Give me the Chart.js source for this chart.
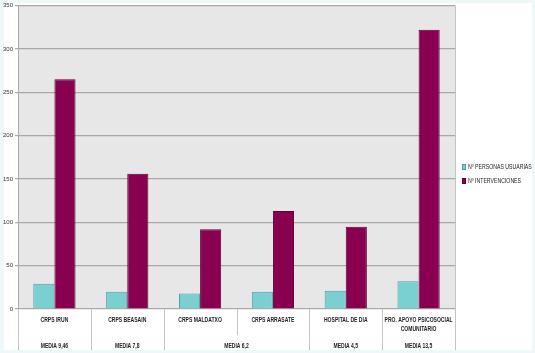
<!DOCTYPE html>
<html>
<head>
<meta charset="utf-8">
<script src="https://cdn.jsdelivr.net/npm/chart.js@4"></script>
<style>
  html, body { margin: 0; padding: 0; background: #eef8f9; }
  #wrap { width: 535px; height: 353px; }
</style>
</head>
<body>
<div id="wrap"><canvas id="serviciosChart" width="535" height="353"></canvas></div>
<script>
// chart data
const categories = ['CRPS IRUN', 'CRPS BEASAIN', 'CRPS MALDATXO', 'CRPS ARRASATE', 'HOSPITAL DE DIA', ['PRO. APOYO PSICOSOCIAL', 'COMUNITARIO']];
const personas = [29, 20, 18, 20, 21, 32];
const intervenciones = [265, 156, 92, 113, 95, 322];
const seriesLabels = ['Nº PERSONAS USUARIAS', 'Nº INTERVENCIONES'];
// group row under the categories: [label, first index, last index]
const mediaGroups = [['MEDIA 9,46', 0, 0], ['MEDIA 7,8', 1, 1], ['MEDIA 6,2', 2, 3], ['MEDIA 4,5', 4, 4], ['MEDIA 13,5', 5, 5]];
const yTicks = [0, 50, 100, 150, 200, 250, 300, 350];

const smallFont = '"Liberation Sans", Arial, sans-serif';

// condensed text: squeeze horizontally around the anchor point
function narrowText(c, text, x, y, squeeze) {
    c.save();
    c.translate(x, y);
    c.scale(squeeze, 1);
    c.fillText(text, 0, 0);
    c.restore();
}

// frame, plot background, x label area and legend
const decorPlugin = {
    id: 'decor',
    beforeDraw(chart) {
        const c = chart.ctx, a = chart.chartArea;
        c.save();
        c.fillStyle = '#eef8f9';
        c.fillRect(0, 0, chart.width, chart.height);
        c.fillStyle = '#ffffff';
        c.fillRect(4, 3, 528, 347);
        c.fillStyle = '#e7e7e7';
        c.fillRect(a.left, a.top, a.right - a.left, a.bottom - a.top);
        c.restore();
    },
    afterDraw(chart) {
        const c = chart.ctx, a = chart.chartArea, x = chart.scales.x;
        const n = categories.length;
        const edge = i => {
            if (i <= 0) return a.left;
            if (i >= n) return a.right;
            return (x.getPixelForValue(i - 1) + x.getPixelForValue(i)) / 2;
        };
        c.save();
        c.strokeStyle = '#c4c4c4';
        c.lineWidth = 1;
        // right border of plot
        c.beginPath();
        c.moveTo(Math.round(a.right) + 0.5, a.top);
        c.lineTo(Math.round(a.right) + 0.5, 350);
        c.stroke();
        // dividers below the axis
        for (let i = 0; i <= n; i++) {
            const inGroup = mediaGroups.some(g => i > g[1] && i <= g[2]);
            const px = Math.round(edge(i)) + 0.5;
            c.beginPath();
            c.moveTo(px, a.bottom);
            c.lineTo(px, inGroup ? 335 : 350);
            c.stroke();
        }
        // category labels
        c.fillStyle = '#222';
        c.font = 'bold 7px ' + smallFont;
        c.textAlign = 'center';
        c.textBaseline = 'middle';
        categories.forEach((lab, i) => {
            const lines = Array.isArray(lab) ? lab : [lab];
            lines.forEach((t, j) => narrowText(c, t, x.getPixelForValue(i), 320 + j * 9.5, 0.72));
        });
        mediaGroups.forEach(g => {
            const cx = (edge(g[1]) + edge(g[2] + 1)) / 2;
            narrowText(c, g[0], cx, 346, 0.72);
        });
        // legend
        const colors = chart.data.datasets.map(d => [d.backgroundColor, d.borderColor]);
        c.textAlign = 'left';
        c.font = '7px ' + smallFont;
        seriesLabels.forEach((lab, i) => {
            const ly = 167 + i * 14;
            c.fillStyle = colors[i][0];
            c.fillRect(462, ly - 3, 4, 6);
            c.strokeStyle = colors[i][1];
            c.strokeRect(462.5, ly - 2.5, 3, 5);
            c.fillStyle = '#222';
            narrowText(c, lab, 468, ly, 0.74);
        });
        c.restore();
    }
};

new Chart(document.getElementById('serviciosChart'), {
    type: 'bar',
    data: {
        labels: categories,
        datasets: [
            {
                label: seriesLabels[0],
                data: personas,
                backgroundColor: '#7acfd1',
                borderColor: '#4d9fa2',
                borderWidth: 1,
                barPercentage: 1,
                categoryPercentage: 0.58
            },
            {
                label: seriesLabels[1],
                data: intervenciones,
                backgroundColor: '#8a0050',
                borderColor: '#5e0036',
                borderWidth: 1,
                barPercentage: 1,
                categoryPercentage: 0.58
            }
        ]
    },
    options: {
        responsive: false,
        animation: false,
        layout: { padding: { left: 0, top: 4, right: 80, bottom: 36 } },
        plugins: { legend: { display: false }, tooltip: { enabled: false } },
        scales: {
            x: {
                grid: { display: false },
                border: { display: false },
                ticks: { display: false }
            },
            y: {
                min: 0,
                max: 350,
                afterBuildTicks: s => { s.ticks = yTicks.map(v => ({ value: v })); },
                afterFit: s => { s.width = 18; },
                grid: { color: '#a8a8a8', lineWidth: 1.2, tickLength: 3 },
                border: { color: '#a8a8a8' },
                ticks: {
                    color: '#333',
                    padding: 2,
                    font: { family: smallFont, size: 6 }
                }
            }
        }
    },
    plugins: [decorPlugin]
});
</script>
</body>
</html>
